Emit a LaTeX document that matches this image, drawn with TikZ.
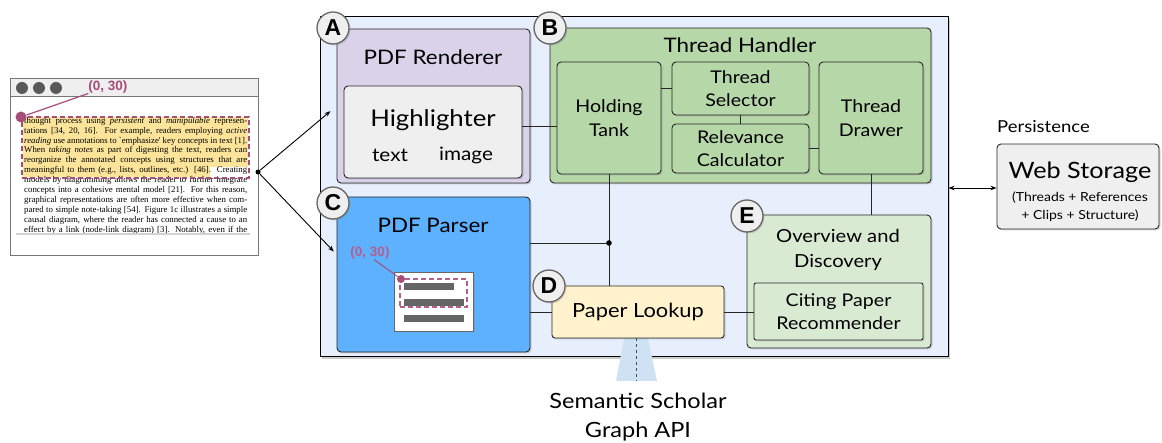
\documentclass[tikz,border=0pt]{standalone}
\usepackage{fontspec}
\setmainfont{Lato}[FakeStretch=1.12]
\newfontfamily\paperfont{Liberation Serif}
\newfontfamily\labfont{Liberation Sans}
\usetikzlibrary{shadows,arrows.meta,calc}
\definecolor{mainbg}{HTML}{E8EFFC}
\definecolor{lav}{HTML}{D9D2E9}
\definecolor{lgrey}{HTML}{EFEFEF}
\definecolor{tgreen}{HTML}{B6D7A8}
\definecolor{lgreen}{HTML}{D9EAD3}
\definecolor{pblue}{HTML}{5DB1FF}
\definecolor{pyellow}{HTML}{FFF2CC}
\definecolor{mymag}{HTML}{A64D79}
\definecolor{mymagl}{HTML}{B45F8C}
\definecolor{apiblue}{HTML}{CFE2F3}
\definecolor{hlyellow}{HTML}{FCE59B}
\definecolor{framegrey}{HTML}{777777}
\tikzset{
  shad/.style={drop shadow={shadow xshift=1.5pt,shadow yshift=-1.5pt,opacity=0.3}},
  box/.style={draw=black!85,line width=0.9pt,rounded corners=4pt,shad,inner sep=0pt},
  badge/.style={circle,draw=black!60,line width=1.3pt,fill=lgrey,minimum size=32pt,inner sep=0pt,
    font=\labfont\bfseries\fontsize{23}{24}\selectfont,shad},
  conn/.style={draw=black!85,line width=0.9pt},
  arr/.style={draw=black,line width=0.9pt,-{Stealth[length=6pt,width=4.5pt]}},
  title/.style={font=\fontsize{20}{24}\selectfont,inner sep=0pt},
  inner/.style={font=\fontsize{17.5}{23.5}\selectfont,align=center,inner sep=0pt},
  pline/.style={anchor=west,inner sep=0pt,font=\paperfont\fontsize{8.8}{9}\selectfont},
  coordlab/.style={font=\labfont\bfseries\fontsize{13.5}{14}\selectfont,inner sep=0pt},
  magdash/.style={dash pattern=on 5pt off 3pt,line width=1.3pt},
}
\begin{document}
\begin{tikzpicture}[x=1pt,y=-1pt]
\useasboundingbox (0,0) rectangle (1162,443);

% ---------- left screenshot ----------
\node[draw=framegrey,line width=1pt,fill=white,minimum width=248pt,minimum height=177pt,inner sep=0pt] (win) at (134,167.5) {};
\node[draw=framegrey,line width=1pt,fill=lgrey,minimum width=248pt,minimum height=18pt,inner sep=0pt,anchor=north west] (bar) at (win.north west) {};
\foreach \i/\x in {1/22,2/39,3/56}{\node[circle,fill=black!65,minimum size=12pt,inner sep=0pt] (dot\i) at (\x,88) {};}
\node[fill=white,minimum width=234pt,minimum height=122pt,inner sep=0pt,
  drop shadow={shadow xshift=0pt,shadow yshift=-2pt,opacity=0.35}] (page) at (133,172) {};
\begin{scope}
\clip (16,111) rectangle (250,233);
\fill[hlyellow] (23,117) rectangle (248,167.5);
\fill[hlyellow] (23,167.5) rectangle (210,177);
\foreach \n/\t [count=\k] in {
 l1/{thought process using \emph{persistent} and \emph{manipulable} represen-},
 l2/{tations [34, 20, 16]. For example, readers employing \emph{active}},
 l3/{\emph{reading} use annotations to `emphasize' key concepts in text [1].},
 l4/{When \emph{taking notes} as part of digesting the text, readers can},
 l5/{reorganize the annotated concepts using structures that are},
 l6/{meaningful to them (e.g., lists, outlines, etc.) [46]. Creating},
 l7/{models by diagramming allows the reader to further integrate},
 l8/{concepts into a cohesive mental model [21]. For this reason,},
 l9/{graphical representations are often more effective when com-},
 l10/{pared to simple note-taking [54]. Figure 1c illustrates a simple},
 l11/{causal diagram, where the reader has connected a cause to an},
 l12/{effect by a link (node-link diagram) [3]. Notably, even if the}}
 {\node[pline] (\n) at (24,{121+9.95*(\k-1)}) {\makebox[223pt][s]{\t}};}
\end{scope}
\node[draw=mymag,magdash,minimum width=227pt,minimum height=61pt,inner sep=0pt] (sel) at (135.5,147.5) {};
\node[circle,fill=mymag,minimum size=11pt,inner sep=0pt] (sdot) at (21,117) {};
\node[coordlab,text=mymag] (slab) at (108,87) {(0, 30)};
\draw[mymag,line width=1.2pt] (sdot) -- (slab.south west);
\node[circle,fill=black,minimum size=5pt,inner sep=0pt] (sj) at (258,172) {};

% ---------- main container ----------
\node[draw=black,line width=1pt,fill=mainbg,minimum width=628pt,minimum height=340pt,inner sep=0pt,
  drop shadow={shadow xshift=2pt,shadow yshift=-2pt,opacity=0.4}] (main) at (634,187) {};

% A: PDF Renderer
\node[box,fill=lav,minimum width=193pt,minimum height=154pt] (A) at (433.5,106) {};
\node[title] (Atitle) at (433,57) {PDF Renderer};
\node[box,fill=lgrey,minimum width=178pt,minimum height=92pt] (HL) at (433,132) {};
\node[inner sep=0pt,font=\fontsize{23}{26}\selectfont] (HLt) at (433,120) {Highlighter};
\node[inner sep=0pt,font=\fontsize{18.5}{20}\selectfont] (HLtext) at (390,155) {text};
\node[inner sep=0pt,font=\fontsize{18.5}{20}\selectfont] (HLimg) at (466,155) {image};

% B: Thread Handler
\node[box,fill=tgreen,minimum width=381pt,minimum height=155pt] (B) at (740.5,105.5) {};
\node[title] (Btitle) at (740,45) {Thread Handler};
\node[box,fill=tgreen,minimum width=104pt,minimum height=112pt,inner] (HT) at (609,118) {Holding\\Tank};
\node[box,fill=tgreen,minimum width=137pt,minimum height=53pt,inner] (TS) at (740.5,88.5) {Thread\\Selector};
\node[box,fill=tgreen,minimum width=137pt,minimum height=49pt,inner] (RC) at (740.5,148.5) {Relevance\\Calculator};
\node[box,fill=tgreen,minimum width=104pt,minimum height=112pt,inner] (TD) at (871,118) {Thread\\Drawer};

% C: PDF Parser
\node[box,fill=pblue,minimum width=193pt,minimum height=155pt] (C) at (433.5,274.5) {};
\node[title] (Ctitle) at (433,225) {PDF Parser};
\node[draw=black!60,line width=0.8pt,fill=white,minimum width=79pt,minimum height=59pt,inner sep=0pt,shad] (icon) at (433.5,301.5) {};
\fill[black!60] (404,283) rectangle (454,290);
\fill[black!60] (404,299) rectangle (464,306);
\fill[black!60] (404,315) rectangle (464,322);
\node[draw=mymagl,magdash,line width=1.1pt,minimum width=67pt,minimum height=28pt,inner sep=0pt] (isel) at (433.5,293) {};
\node[circle,fill=mymag,minimum size=8pt,inner sep=0pt] (idot) at (401,279) {};
\node[coordlab,text=mymagl] (ilab) at (370,253) {(0, 30)};
\draw[mymag,line width=1pt] (idot) -- ([xshift=4pt]ilab.south);

% D: Paper Lookup + API
\fill[apiblue] (625,334) -- (647,334) -- (657,381) -- (616,381) -- cycle;
\node[box,fill=pyellow,rounded corners=3pt,minimum width=172pt,minimum height=52pt,font=\fontsize{19.5}{22}\selectfont] (D) at (638,312) {Paper Lookup};
\coordinate (apiend) at (636,381);
\draw[black!70,dashed,line width=0.9pt] (D.south -| apiend) -- (apiend);
\node[inner sep=0pt,align=center,font=\fontsize{21}{29}\selectfont] (api) at (638,417) {Semantic Scholar\\Graph API};

% E: Overview and Discovery
\node[box,fill=lgreen,minimum width=184pt,minimum height=133pt] (E) at (839,281.5) {};
\node[inner,font=\fontsize{18}{25}\selectfont] (Etitle) at (838,249.5) {Overview and\\Discovery};
\node[box,fill=lgreen,rounded corners=2pt,minimum width=169pt,minimum height=57pt,inner] (CP) at (838.5,311.5) {Citing Paper\\Recommender};

% Web storage
\node[box,fill=lgrey,minimum width=162pt,minimum height=85pt] (W) at (1078,186.5) {};
\node[inner sep=0pt,font=\fontsize{22.5}{24}\selectfont] (Wt) at (1080,172) {Web Storage};
\node[inner sep=0pt,align=center,font=\fontsize{12.5}{18}\selectfont] (Ws) at (1080,207) {(Threads + References\\+ Clips + Structure)};
\node[inner sep=0pt,anchor=west,font=\fontsize{16.5}{18}\selectfont] (pers) at (997,127) {Persistence};

% ---------- connectors ----------
\coordinate (hly) at (0,126);
\draw[conn] (HL.east |- hly) -- (HT.west |- hly);
\draw[conn] (HT.east |- TS.west) -- (TS.west);
\draw[conn] (TS.south) -- (RC.north);
\draw[conn] (RC.east) -- (RC.east -| TD.west);
\coordinate (jy) at (0,243);
\coordinate (j1) at (HT.south |- jy);
\draw[conn] (HT.south) -- (HT.south |- D.north);
\draw[conn] (C.east |- j1) -- (j1);
\fill (j1) circle (2.8pt);
\draw[conn] (D.west -| C.east) -- (D.west);
\draw[conn] (D.east) -- (D.east -| CP.west);
\draw[conn] (TD.south) -- (TD.south |- E.north);
\coordinate (wy) at (0,188);
\draw[draw=black,line width=0.9pt,{Stealth[length=6pt,width=4.5pt]}-{Stealth[length=6pt,width=4.5pt]}] (main.east |- wy) -- (W.west |- wy);
\draw[arr,shorten >=8pt] (sj) -- (A.west);
\draw[arr,shorten >=4pt] (sj) -- ([yshift=20pt]C.west);

% ---------- badges ----------
\node[badge] (bA) at (333,28) {A};
\node[badge] (bB) at (550,28) {B};
\node[badge] (bC) at (333,203) {C};
\node[badge] (bD) at (549,286) {D};
\node[badge] (bE) at (747,216) {E};
\end{tikzpicture}
\end{document}
